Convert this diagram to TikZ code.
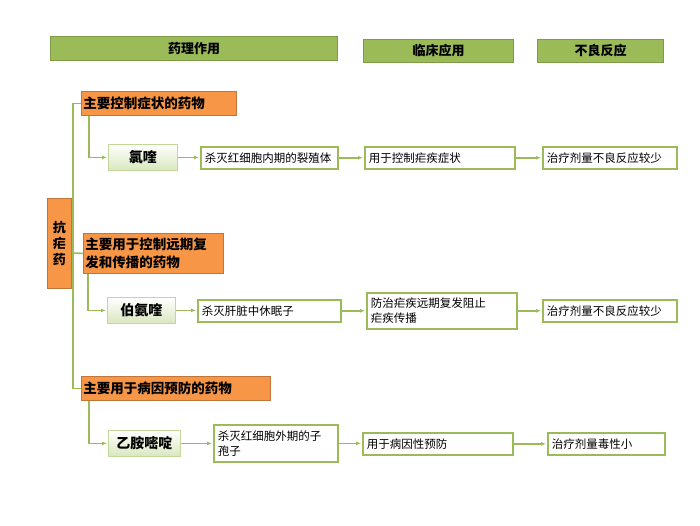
\documentclass[tikz,border=0pt]{standalone}
\usepackage{fontspec}
\setmainfont{Noto Sans CJK SC}
\usetikzlibrary{arrows.meta}

\definecolor{hdgreen}{HTML}{9BBB59}
\definecolor{hdedge}{HTML}{7E9C47}
\definecolor{catorange}{HTML}{F79646}
\definecolor{catedge}{HTML}{C0763A}
\definecolor{druglight}{HTML}{D9E7BE}
\definecolor{drugedge}{HTML}{C3D69B}

\begin{document}
\begin{tikzpicture}[x=1pt, y=-1pt, >={Latex[length=5pt,width=4pt]},
    header/.style={draw=hdedge, fill=hdgreen, line width=1pt, anchor=north west,
      inner sep=0pt, font=\bfseries\fontsize{13}{15}\selectfont},
    category/.style={draw=catedge, fill=catorange, line width=0.8pt, anchor=north west,
      inner xsep=2pt, inner ysep=0pt, align=left, font=\bfseries\fontsize{13.5}{18}\selectfont},
    drug/.style={draw=drugedge, top color=white, bottom color=druglight, line width=0.8pt,
      anchor=north west, inner sep=0pt, font=\bfseries\fontsize{14}{16}\selectfont},
    info/.style={draw=hdgreen, fill=white, line width=1.6pt, anchor=north west,
      inner xsep=4pt, inner ysep=0pt, align=left, font=\fontsize{11.5}{15}\selectfont},
    link/.style={draw=hdgreen, line width=1.6pt},
    arrow/.style={link, ->, shorten >=1pt}]
  \useasboundingbox (0,0) rectangle (700,525);

  % column headers
  \node[header, minimum width=287pt, minimum height=24pt] (hpharm) at (50,36) {药理作用};
  \node[header, minimum width=150pt, minimum height=23pt] (hclin) at (363,39) {临床应用};
  \node[header, minimum width=126pt, minimum height=23pt] (hside) at (537,39) {不良反应};

  % root
  \node[draw=catedge, fill=catorange, line width=0.8pt, anchor=north west,
    minimum width=24pt, minimum height=90pt, inner sep=0pt, align=center,
    font=\bfseries\fontsize{13}{16}\selectfont] (root) at (47,198) {抗\\疟\\药};

  % categories
  \node[category, minimum width=155pt, minimum height=24pt, text width=151pt] (cat1) at (81,91)
    {主要控制症状的药物};
  \node[category, minimum width=140pt, minimum height=40pt, text width=136pt] (cat2) at (83,233)
    {主要用于控制远期复\\发和传播的药物};
  \node[category, minimum width=189pt, minimum height=24pt, text width=185pt] (cat3) at (81,376)
    {主要用于病因预防的药物};

  % drugs
  \node[drug, minimum width=69pt, minimum height=26pt] (drug1) at (108,144) {氯喹};
  \node[drug, minimum width=68pt, minimum height=26pt] (drug2) at (107,297) {伯氨喹};
  \node[drug, minimum width=72pt, minimum height=26pt] (drug3) at (108,430) {乙胺嘧啶};

  % row 1
  \node[info, minimum width=137pt, minimum height=22pt, text width=129pt] (act1) at (200,146)
    {杀灭红细胞内期的裂殖体};
  \node[info, minimum width=150pt, minimum height=22pt, text width=142pt] (use1) at (364,146)
    {用于控制疟疾症状};
  \node[info, minimum width=134pt, minimum height=22pt, text width=126pt] (adv1) at (542,146)
    {治疗剂量不良反应较少};

  % row 2
  \node[info, minimum width=143pt, minimum height=22pt, text width=135pt] (act2) at (197,299)
    {杀灭肝脏中休眠子};
  \node[info, minimum width=150pt, minimum height=36pt, text width=142pt] (use2) at (366,292)
    {防治疟疾远期复发阻止\\疟疾传播};
  \node[info, minimum width=134pt, minimum height=22pt, text width=126pt] (adv2) at (542,299)
    {治疗剂量不良反应较少};

  % row 3
  \node[info, minimum width=124pt, minimum height=37pt, text width=116pt] (act3) at (213,424)
    {杀灭红细胞外期的子\\孢子};
  \node[info, minimum width=150pt, minimum height=22pt, text width=142pt] (use3) at (362,432)
    {用于病因性预防};
  \node[info, minimum width=117pt, minimum height=22pt, text width=109pt] (adv3) at (547,432)
    {治疗剂量毒性小};

  % trunk
  \coordinate (trunk) at (73,253);
  \draw[link] (cat1.west) -| (trunk) |- (cat3.west);
  \draw[link] (trunk) -- (cat2.west);

  % category -> drug
  \foreach \i/\dx in {1/8,2/5,3/8} {
    \draw[arrow] ([xshift=\dx pt]cat\i.south west) |- (drug\i.west);
  }

  % rows
  \foreach \i in {1,2,3} {
    \draw[arrow] (drug\i.east) -- (act\i.west |- drug\i.east);
    \draw[arrow] (act\i.east) -- (use\i.west |- act\i.east);
    \draw[arrow] (use\i.east) -- (adv\i.west |- use\i.east);
  }
\end{tikzpicture}
\end{document}
